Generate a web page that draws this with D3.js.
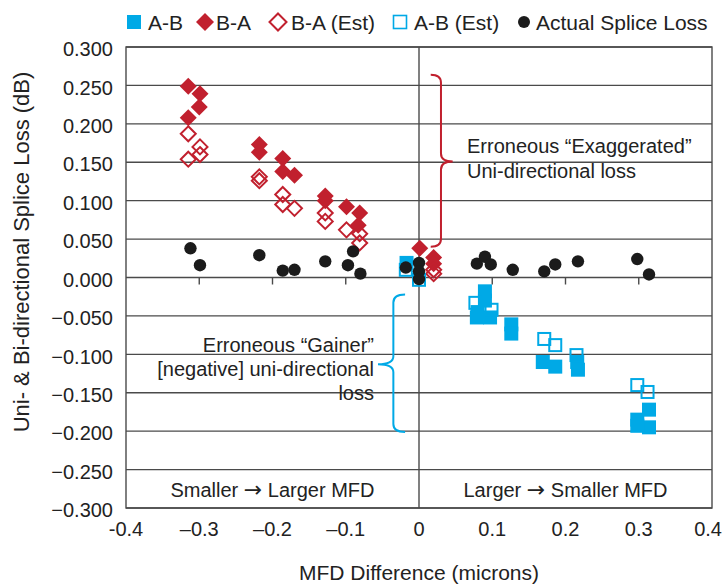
<!DOCTYPE html>
<html><head><meta charset="utf-8">
<script src="https://cdn.jsdelivr.net/npm/d3@7"></script>
<style>
html,body{margin:0;padding:0;background:#fff;}
svg text{font-family:"Liberation Sans",Arial,Helvetica,sans-serif;fill:#222;}
</style></head>
<body><svg id="c" width="723" height="584"></svg>
<script>
// ---- data ----
const abX = [-0.017, 0.090, 0.090, 0.080, 0.079, 0.097, 0.126, 0.126, 0.169, 0.186, 0.216, 0.217, 0.298, 0.314, 0.314, 0.298];
const abY = [0.019, -0.018, -0.030, -0.045, -0.052, -0.052, -0.061, -0.073, -0.110, -0.116, -0.110, -0.120, -0.185, -0.172, -0.195, -0.193];
const baX = [-0.315, -0.299, -0.300, -0.315, -0.218, -0.218, -0.186, -0.186, -0.170, -0.128, -0.128, -0.099, -0.081, -0.083, 0.001, 0.020, 0.020];
const baY = [0.249, 0.239, 0.222, 0.208, 0.173, 0.163, 0.155, 0.138, 0.133, 0.106, 0.100, 0.092, 0.084, 0.068, 0.038, 0.026, 0.018];
const baEstX = [-0.315, -0.299, -0.299, -0.315, -0.218, -0.218, -0.186, -0.186, -0.170, -0.128, -0.128, -0.099, -0.081, -0.081, 0.020, 0.020];
const baEstY = [0.187, 0.170, 0.160, 0.154, 0.131, 0.126, 0.108, 0.095, 0.090, 0.084, 0.073, 0.062, 0.057, 0.045, 0.010, 0.005];
const abEstX = [-0.018, 0.000, 0.077, 0.099, 0.171, 0.186, 0.215, 0.298, 0.312];
const abEstY = [0.010, -0.003, -0.033, -0.042, -0.080, -0.088, -0.101, -0.140, -0.149];
const actX = [-0.312, -0.299, -0.218, -0.186, -0.170, -0.128, -0.097, -0.090, -0.080, -0.018, 0.000, 0.000, 0.000, 0.079, 0.090, 0.098, 0.128, 0.171, 0.186, 0.217, 0.298, 0.314];
const actY = [0.038, 0.016, 0.029, 0.009, 0.010, 0.021, 0.016, 0.034, 0.005, 0.013, 0.019, 0.008, -0.002, 0.018, 0.027, 0.017, 0.010, 0.008, 0.017, 0.021, 0.024, 0.004];
const xTicks = [-0.4, -0.3, -0.2, -0.1, 0, 0.1, 0.2, 0.3, 0.4];
const xTickLabels = ["-0.4", "\u20130.3", "\u20130.2", "\u20130.1", "0", "0.1", "0.2", "0.3", "0.4"];
const yTicks = [0.3, 0.25, 0.2, 0.15, 0.1, 0.05, 0, -0.05, -0.1, -0.15, -0.2, -0.25, -0.3];
const legendNames = ["A-B", "B-A", "B-A (Est)", "A-B (Est)", "Actual Splice Loss"];
const regionLabels = [["Smaller ", "\u2192", " Larger MFD"], ["Larger ", "\u2192", " Smaller MFD"]];
const regionCenters = [-0.2, 0.2];
const xTitle = "MFD Difference (microns)";
const yTitle = "Uni- & Bi-directional Splice Loss (dB)";
const noteTop = ["Erroneous \u201cExaggerated\u201d", "Uni-directional loss"];
const noteBottom = ["Erroneous \u201cGainer\u201d", "[negative] uni-directional", "loss"];

// ---- setup ----
const BLUE = "#00a9e6", RED = "#c1202e", BLACK = "#1b1b1b", GRID = "#4a4a4a";
const svg = d3.select("#c");
const x = d3.scaleLinear().domain([-0.4, 0.4]).range([126, 712]);
const y = d3.scaleLinear().domain([-0.3, 0.3]).range([508, 47]);

// grid
svg.append("g").selectAll("line").data(yTicks).join("line")
  .attr("x1", x(-0.4)).attr("x2", x(0.4))
  .attr("y1", d => y(d)).attr("y2", d => y(d))
  .attr("stroke", GRID).attr("stroke-width", 1.4);
svg.append("rect").attr("x", x(-0.4)).attr("y", y(0.3))
  .attr("width", x(0.4) - x(-0.4)).attr("height", y(-0.3) - y(0.3))
  .attr("fill", "none").attr("stroke", GRID).attr("stroke-width", 1.4);
svg.append("line").attr("x1", x(0)).attr("x2", x(0)).attr("y1", y(0.3)).attr("y2", y(-0.3))
  .attr("stroke", GRID).attr("stroke-width", 1.4);
// x ticks on zero line
svg.append("g").selectAll("line").data(xTicks.filter(d => d > -0.4 && d < 0.4 && d !== 0)).join("line")
  .attr("x1", d => x(d)).attr("x2", d => x(d))
  .attr("y1", y(0)).attr("y2", y(0) + 7)
  .attr("stroke", GRID).attr("stroke-width", 1.4);

// axis labels
svg.append("g").selectAll("text").data(yTicks).join("text")
  .attr("x", 113).attr("y", d => y(d) + 2).attr("dy", "0.36em")
  .attr("text-anchor", "end").attr("font-size", 20)
  .text(d => d3.format(".3f")(d).replace("-", "\u2013"));
svg.append("g").selectAll("text").data(xTicks).join("text")
  .attr("x", (d, i) => i === xTicks.length - 1 ? 722 : x(d)).attr("y", 536)
  .attr("text-anchor", (d, i) => i === xTicks.length - 1 ? "end" : "middle").attr("font-size", 20)
  .text((d, i) => xTickLabels[i]);
svg.append("text").attr("x", x(0)).attr("y", 580).attr("text-anchor", "middle")
  .attr("font-size", 21).text(xTitle);
svg.append("text").attr("transform", `translate(29,252) rotate(-90)`)
  .attr("text-anchor", "middle").attr("font-size", 22).text(yTitle);

// region labels
const rl = svg.append("g").selectAll("text").data(regionLabels).join("text")
  .attr("x", (d, i) => x(regionCenters[i])).attr("y", 497)
  .attr("text-anchor", "middle").attr("font-size", 20);
rl.each(function (parts) {
  const t = d3.select(this);
  parts.forEach((p, k) => {
    const ts = t.append("tspan").text(p);
    if (k === 1) ts.style("font-family", "'DejaVu Sans'").attr("font-size", 22);
  });
});

// braces
function bracePath(xv, xEnd, xTip, yTop, yMid, yBot) {
  const r = 8;
  return `M${xEnd},${yTop} Q${xv},${yTop} ${xv},${yTop + r}` +
    ` L${xv},${yMid - r} Q${xv},${yMid} ${xTip},${yMid}` +
    ` Q${xv},${yMid} ${xv},${yMid + r}` +
    ` L${xv},${yBot - r} Q${xv},${yBot} ${xEnd},${yBot}`;
}
svg.append("path")
  .attr("d", bracePath(x(0.030), x(0.016), x(0.046), y(0.264), y(0.151), y(0.040)))
  .attr("fill", "none").attr("stroke", RED).attr("stroke-width", 2);
svg.append("path")
  .attr("d", bracePath(x(-0.035), x(-0.019), x(-0.056), y(-0.022), y(-0.113), y(-0.201)))
  .attr("fill", "none").attr("stroke", BLUE).attr("stroke-width", 2);

svg.append("g").selectAll("text").data(noteTop).join("text")
  .attr("x", 467).attr("y", (d, i) => 153 + i * 25)
  .attr("font-size", 20).text(d => d);
svg.append("g").selectAll("text").data(noteBottom).join("text")
  .attr("x", 374).attr("y", (d, i) => 352 + i * 24).attr("text-anchor", "end")
  .attr("font-size", 20).text(d => d);

// markers
const SQ = 14, DI = 8.5, CR = 6.2;
const dia = r => `M0,${-r} L${r},0 L0,${r} L${-r},0 Z`;
function pts(xs, ys) { return xs.map((v, i) => [v, ys[i]]); }

svg.append("g").selectAll("rect").data(pts(abX, abY)).join("rect")
  .attr("x", d => x(d[0]) - SQ / 2).attr("y", d => y(d[1]) - SQ / 2)
  .attr("width", SQ).attr("height", SQ).attr("fill", BLUE);
svg.append("g").selectAll("path").data(pts(baX, baY)).join("path")
  .attr("transform", d => `translate(${x(d[0])},${y(d[1])})`)
  .attr("d", dia(DI)).attr("fill", RED);
svg.append("g").selectAll("path").data(pts(baEstX, baEstY)).join("path")
  .attr("transform", d => `translate(${x(d[0])},${y(d[1])})`)
  .attr("d", dia(DI - 1)).attr("fill", "none").attr("stroke", RED).attr("stroke-width", 2);
svg.append("g").selectAll("rect").data(pts(abEstX, abEstY)).join("rect")
  .attr("x", d => x(d[0]) - (SQ - 2) / 2).attr("y", d => y(d[1]) - (SQ - 2) / 2)
  .attr("width", SQ - 2).attr("height", SQ - 2).attr("fill", "none").attr("stroke", BLUE).attr("stroke-width", 2);
svg.append("g").selectAll("circle").data(pts(actX, actY)).join("circle")
  .attr("cx", d => x(d[0])).attr("cy", d => y(d[1])).attr("r", CR).attr("fill", BLACK);

// legend
const leg = svg.append("g").attr("transform", "translate(0,22)");
const legMarkX = [134, 205, 278, 400, 524];
const legTextX = [148, 216, 291, 414, 536];
legendNames.forEach((n, i) => {
  const g = leg.append("g");
  const cx = legMarkX[i];
  if (i === 0) g.append("rect").attr("x", cx - 7).attr("y", -7).attr("width", 14).attr("height", 14).attr("fill", BLUE);
  if (i === 1) g.append("path").attr("transform", `translate(${cx},0)`).attr("d", dia(9)).attr("fill", RED);
  if (i === 2) g.append("path").attr("transform", `translate(${cx},0)`).attr("d", dia(8.5)).attr("fill", "none").attr("stroke", RED).attr("stroke-width", 2);
  if (i === 3) g.append("rect").attr("x", cx - 6.5).attr("y", -6.5).attr("width", 13).attr("height", 13).attr("fill", "none").attr("stroke", BLUE).attr("stroke-width", 1.6);
  if (i === 4) g.append("circle").attr("cx", cx).attr("cy", 0).attr("r", 6).attr("fill", BLACK);
  g.append("text").attr("x", legTextX[i]).attr("y", 0).attr("dy", "0.36em").attr("font-size", 21).text(n);
});
</script></body></html>
